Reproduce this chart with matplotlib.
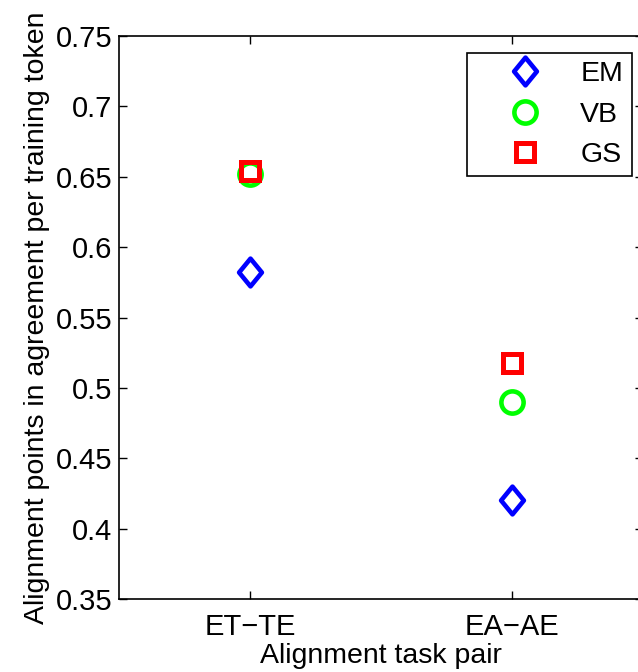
import numpy as np
import matplotlib.pyplot as plt
from matplotlib.path import Path

plt.rcParams['font.family'] = ['Liberation Sans', 'DejaVu Sans']

# agreement scores per task pair
pares = ['ET\u2212TE', 'EA\u2212AE']
em = [0.582, 0.420]
vb = [0.652, 0.490]
gs = [0.654, 0.518]

x = np.arange(1, len(pares) + 1)

# MATLAB-style diamond: taller than wide
rombo = Path([(0, 1), (0.82, 0), (0, -1), (-0.82, 0), (0, 1)],
             [Path.MOVETO, Path.LINETO, Path.LINETO, Path.LINETO, Path.CLOSEPOLY])

fig = plt.figure(figsize=(6.38, 6.72), dpi=100)
ax = fig.add_axes([0.1865, 0.1086, 0.821, 0.8378])

ax.plot(x, em, linestyle='none', marker=rombo, markersize=20, mfc='none',
        mec=(0, 0, 1), mew=3.3, label='EM')
ax.plot(x, vb, linestyle='none', marker='o', markersize=16, mfc='none',
        mec=(0, 1, 0), mew=3.3, label='VB')
ax.plot(x, gs, linestyle='none', marker='s', markersize=12.5, mfc='none',
        mec=(1, 0, 0), mew=3.6, label='GS')

ax.set_xlim(0.5, 2.5)
ax.set_ylim(0.35, 0.75)
ax.set_xticks(x)
ax.set_xticklabels(pares)
ax.set_yticks(np.arange(0.35, 0.751, 0.05))
ax.set_yticklabels(['0.35', '0.4', '0.45', '0.5', '0.55', '0.6', '0.65', '0.7', '0.75'])
ax.tick_params(direction='in', length=6, width=1, labelsize=21, top=True, right=True, pad=5)
ax.tick_params(axis='x', pad=10)
for s in ax.spines.values():
    s.set_linewidth(1.2)

ax.set_xlabel('Alignment task pair', fontsize=20.5, labelpad=1.5)
ax.set_ylabel('Alignment points in agreement per training token', fontsize=20.5, labelpad=4)

leg = ax.legend(loc='upper right', bbox_to_anchor=(0.979, 0.97), fontsize=20.5,
                fancybox=False, edgecolor='black', framealpha=1,
                handlelength=3.5, handletextpad=0.18, labelspacing=0.5,
                borderpad=0.3, borderaxespad=0, markerfirst=True)
leg.get_frame().set_linewidth(1.2)

fig.savefig('out.png', dpi=100)
